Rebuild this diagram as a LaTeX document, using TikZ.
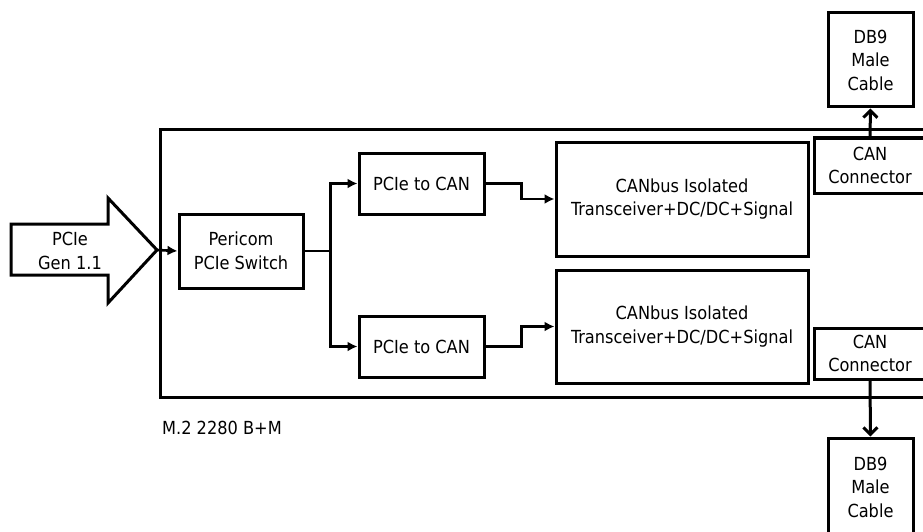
\documentclass[tikz,border=0pt]{standalone}
\usepackage{fontspec}
\setmainfont{DejaVu Sans Condensed}
\usetikzlibrary{arrows.meta}
\tikzset{
  blk/.style={draw, line width=3pt, inner sep=0pt, align=center, font=\fontsize{18}{23.5}\selectfont},
  conn/.style={line width=2.6pt, -{Latex[length=10pt,width=10pt]}},
  barb/.style={line width=3pt, -{Straight Barb[length=7pt,width=14pt,line width=3pt]}},
  lbl/.style={font=\fontsize{18}{23.5}\selectfont, align=center, inner sep=0pt}
}
\begin{document}
\begin{tikzpicture}[x=1pt,y=-1pt]
\clip (0,0) rectangle (923,532);
\fill[white] (0,0) rectangle (923,532);
% board
\draw[line width=3pt] (160,130) rectangle (960,397);
\node[lbl, anchor=west] (m2) at (162,428) {M.2 2280 B+M};
% fat input arrow
\draw[line width=3pt, line join=miter] (11,224) -- (108,224) -- (108,198) -- (157,250) coordinate (tip) -- (108,303) -- (108,275) -- (11,275) -- cycle;
\node[lbl] (pcie) at (70,251) {PCIe\\Gen 1.1};
% blocks
\node[blk, minimum width=124pt, minimum height=74pt] (sw) at (241,251) {Pericom\\PCIe Switch};
\node[blk, minimum width=125pt, minimum height=61pt] (p1) at (421.5,183.5) {PCIe to CAN};
\node[blk, minimum width=125pt, minimum height=61pt] (p2) at (421.5,346.5) {PCIe to CAN};
\node[blk, minimum width=252pt, minimum height=114pt] (c1) at (682,199) {CANbus Isolated\\Transceiver+DC/DC+Signal};
\node[blk, minimum width=252pt, minimum height=113pt] (c2) at (682,326.5) {CANbus Isolated\\Transceiver+DC/DC+Signal};
\node[blk, minimum width=112pt, minimum height=55pt] (k1) at (870,165.5) {CAN\\Connector};
\node[blk, minimum width=112pt, minimum height=51pt] (k2) at (870,353.5) {CAN\\Connector};
\node[blk, minimum width=85pt, minimum height=94pt] (d1) at (870.5,60) {DB9\\Male\\Cable};
\node[blk, minimum width=85pt, minimum height=98pt] (d2) at (870.5,487) {DB9\\Male\\Cable};
% connectors
\draw[conn] (tip) -- (sw.west);
\draw[line width=2.6pt] (sw.east) -- ++(26,0) coordinate (j);
\draw[conn] (j) |- (p1.west);
\draw[conn] (j) |- (p2.west);
\draw[conn] (p1.east) -- ++(36,0) |- (c1.west);
\draw[conn] (p2.east) -- ++(36,0) |- (c2.west);
\draw[barb] (k1.north) -- (d1.south);
\draw[barb] (k2.south) -- (d2.north);
\end{tikzpicture}
\end{document}
